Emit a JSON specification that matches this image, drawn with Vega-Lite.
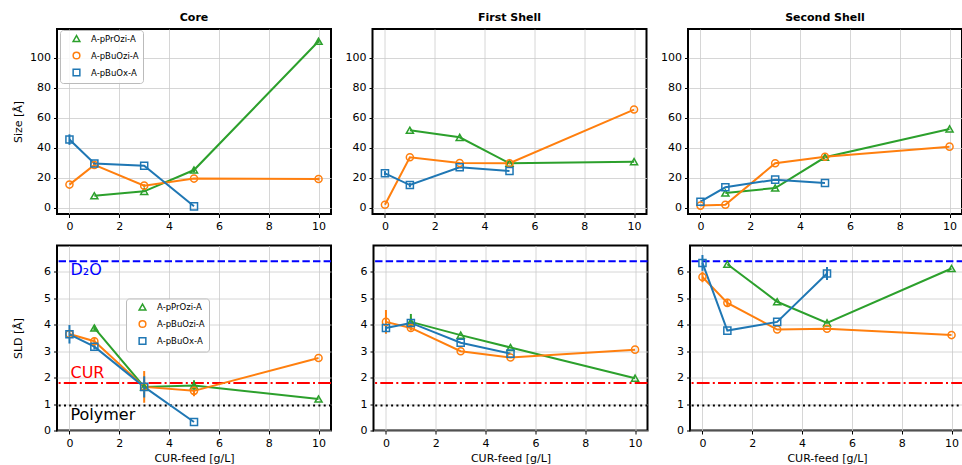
{
  "$schema": "https://vega.github.io/schema/vega-lite/v6.json",
  "padding": {"left": 11, "top": 11, "right": 0, "bottom": 0},
  "config": {
    "font": "DejaVu Sans",
    "view": {"stroke": "black", "strokeWidth": 2},
    "axis": {"domain": false, "grid": true, "gridColor": "#cccccc", "gridWidth": 0.8, "tickColor": "black", "tickSize": 3.5, "labelFontSize": 11, "labelColor": "black", "titleFontSize": 11, "titleFontWeight": "normal", "titleColor": "black", "labelPadding": 3, "labelFlush": false, "labelOverlap": false, "titlePadding": 4},
    "axisY": {"minExtent": 30, "maxExtent": 30},
    "title": {"fontSize": 11, "fontWeight": "bold", "anchor": "middle", "offset": 6, "color": "black"},
    "legend": {"labelFontSize": 8.5, "labelColor": "black", "symbolSize": 45, "symbolStrokeWidth": 1.5, "rowPadding": 4, "padding": 4, "strokeColor": "#bbbbbb", "strokeWidth": 1, "fillColor": "rgba(255,255,255,0.85)", "cornerRadius": 3, "symbolOffset": 8, "labelOffset": 10},
    "concat": {"spacing": 10}
  },
  "datasets": {
    "pts": [
      {"p": "Core", "q": "Size", "s": "A-pPrOzi-A", "x": 1, "y": 8.2, "e": 0},
      {"p": "Core", "q": "Size", "s": "A-pPrOzi-A", "x": 3, "y": 11.1, "e": 0},
      {"p": "Core", "q": "Size", "s": "A-pPrOzi-A", "x": 5, "y": 25.3, "e": 1.5},
      {"p": "Core", "q": "Size", "s": "A-pPrOzi-A", "x": 10, "y": 111.1, "e": 1},
      {"p": "Core", "q": "Size", "s": "A-pBuOzi-A", "x": 0, "y": 15.6, "e": 0},
      {"p": "Core", "q": "Size", "s": "A-pBuOzi-A", "x": 1, "y": 28.7, "e": 1.5},
      {"p": "Core", "q": "Size", "s": "A-pBuOzi-A", "x": 3, "y": 14.9, "e": 1},
      {"p": "Core", "q": "Size", "s": "A-pBuOzi-A", "x": 5, "y": 19.6, "e": 0},
      {"p": "Core", "q": "Size", "s": "A-pBuOzi-A", "x": 10, "y": 19.3, "e": 1},
      {"p": "Core", "q": "Size", "s": "A-pBuOx-A", "x": 0, "y": 45.6, "e": 3.5},
      {"p": "Core", "q": "Size", "s": "A-pBuOx-A", "x": 1, "y": 29.6, "e": 1.5},
      {"p": "Core", "q": "Size", "s": "A-pBuOx-A", "x": 3, "y": 28.2, "e": 0},
      {"p": "Core", "q": "Size", "s": "A-pBuOx-A", "x": 5, "y": 1.1, "e": 0},
      {"p": "First Shell", "q": "Size", "s": "A-pPrOzi-A", "x": 1, "y": 51.8, "e": 0},
      {"p": "First Shell", "q": "Size", "s": "A-pPrOzi-A", "x": 3, "y": 47.1, "e": 0},
      {"p": "First Shell", "q": "Size", "s": "A-pPrOzi-A", "x": 5, "y": 29.8, "e": 0},
      {"p": "First Shell", "q": "Size", "s": "A-pPrOzi-A", "x": 10, "y": 30.9, "e": 0},
      {"p": "First Shell", "q": "Size", "s": "A-pBuOzi-A", "x": 0, "y": 2.2, "e": 0},
      {"p": "First Shell", "q": "Size", "s": "A-pBuOzi-A", "x": 1, "y": 33.8, "e": 0},
      {"p": "First Shell", "q": "Size", "s": "A-pBuOzi-A", "x": 3, "y": 30.0, "e": 0},
      {"p": "First Shell", "q": "Size", "s": "A-pBuOzi-A", "x": 5, "y": 29.8, "e": 0},
      {"p": "First Shell", "q": "Size", "s": "A-pBuOzi-A", "x": 10, "y": 65.6, "e": 0},
      {"p": "First Shell", "q": "Size", "s": "A-pBuOx-A", "x": 0, "y": 23.1, "e": 1.5},
      {"p": "First Shell", "q": "Size", "s": "A-pBuOx-A", "x": 1, "y": 15.3, "e": 1.5},
      {"p": "First Shell", "q": "Size", "s": "A-pBuOx-A", "x": 3, "y": 27.1, "e": 0},
      {"p": "First Shell", "q": "Size", "s": "A-pBuOx-A", "x": 5, "y": 24.7, "e": 0},
      {"p": "Second Shell", "q": "Size", "s": "A-pPrOzi-A", "x": 1, "y": 10.0, "e": 0},
      {"p": "Second Shell", "q": "Size", "s": "A-pPrOzi-A", "x": 3, "y": 13.3, "e": 0},
      {"p": "Second Shell", "q": "Size", "s": "A-pPrOzi-A", "x": 5, "y": 33.8, "e": 0},
      {"p": "Second Shell", "q": "Size", "s": "A-pPrOzi-A", "x": 10, "y": 52.7, "e": 0},
      {"p": "Second Shell", "q": "Size", "s": "A-pBuOzi-A", "x": 0, "y": 1.6, "e": 0},
      {"p": "Second Shell", "q": "Size", "s": "A-pBuOzi-A", "x": 1, "y": 2.2, "e": 0},
      {"p": "Second Shell", "q": "Size", "s": "A-pBuOzi-A", "x": 3, "y": 29.8, "e": 0},
      {"p": "Second Shell", "q": "Size", "s": "A-pBuOzi-A", "x": 5, "y": 34.2, "e": 0},
      {"p": "Second Shell", "q": "Size", "s": "A-pBuOzi-A", "x": 10, "y": 40.9, "e": 0},
      {"p": "Second Shell", "q": "Size", "s": "A-pBuOx-A", "x": 0, "y": 4.2, "e": 0},
      {"p": "Second Shell", "q": "Size", "s": "A-pBuOx-A", "x": 1, "y": 13.8, "e": 0},
      {"p": "Second Shell", "q": "Size", "s": "A-pBuOx-A", "x": 3, "y": 18.9, "e": 0},
      {"p": "Second Shell", "q": "Size", "s": "A-pBuOx-A", "x": 5, "y": 16.7, "e": 0},
      {"p": "Core", "q": "SLD", "s": "A-pPrOzi-A", "x": 1, "y": 3.88, "e": 0.1},
      {"p": "Core", "q": "SLD", "s": "A-pPrOzi-A", "x": 3, "y": 1.65, "e": 0},
      {"p": "Core", "q": "SLD", "s": "A-pPrOzi-A", "x": 5, "y": 1.7, "e": 0.2},
      {"p": "Core", "q": "SLD", "s": "A-pPrOzi-A", "x": 10, "y": 1.19, "e": 0},
      {"p": "Core", "q": "SLD", "s": "A-pBuOzi-A", "x": 0, "y": 3.65, "e": 0},
      {"p": "Core", "q": "SLD", "s": "A-pBuOzi-A", "x": 1, "y": 3.38, "e": 0.15},
      {"p": "Core", "q": "SLD", "s": "A-pBuOzi-A", "x": 3, "y": 1.65, "e": 0.6},
      {"p": "Core", "q": "SLD", "s": "A-pBuOzi-A", "x": 5, "y": 1.5, "e": 0.2},
      {"p": "Core", "q": "SLD", "s": "A-pBuOzi-A", "x": 10, "y": 2.74, "e": 0},
      {"p": "Core", "q": "SLD", "s": "A-pBuOx-A", "x": 0, "y": 3.64, "e": 0.35},
      {"p": "Core", "q": "SLD", "s": "A-pBuOx-A", "x": 1, "y": 3.17, "e": 0.1},
      {"p": "Core", "q": "SLD", "s": "A-pBuOx-A", "x": 3, "y": 1.65, "e": 0.4},
      {"p": "Core", "q": "SLD", "s": "A-pBuOx-A", "x": 5, "y": 0.32, "e": 0},
      {"p": "First Shell", "q": "SLD", "s": "A-pPrOzi-A", "x": 1, "y": 4.11, "e": 0.3},
      {"p": "First Shell", "q": "SLD", "s": "A-pPrOzi-A", "x": 3, "y": 3.61, "e": 0},
      {"p": "First Shell", "q": "SLD", "s": "A-pPrOzi-A", "x": 5, "y": 3.14, "e": 0},
      {"p": "First Shell", "q": "SLD", "s": "A-pPrOzi-A", "x": 10, "y": 1.98, "e": 0},
      {"p": "First Shell", "q": "SLD", "s": "A-pBuOzi-A", "x": 0, "y": 4.11, "e": 0.45},
      {"p": "First Shell", "q": "SLD", "s": "A-pBuOzi-A", "x": 1, "y": 3.88, "e": 0.1},
      {"p": "First Shell", "q": "SLD", "s": "A-pBuOzi-A", "x": 3, "y": 3.0, "e": 0},
      {"p": "First Shell", "q": "SLD", "s": "A-pBuOzi-A", "x": 5, "y": 2.76, "e": 0},
      {"p": "First Shell", "q": "SLD", "s": "A-pBuOzi-A", "x": 10, "y": 3.06, "e": 0},
      {"p": "First Shell", "q": "SLD", "s": "A-pBuOx-A", "x": 0, "y": 3.88, "e": 0.15},
      {"p": "First Shell", "q": "SLD", "s": "A-pBuOx-A", "x": 1, "y": 4.07, "e": 0.1},
      {"p": "First Shell", "q": "SLD", "s": "A-pBuOx-A", "x": 3, "y": 3.32, "e": 0},
      {"p": "First Shell", "q": "SLD", "s": "A-pBuOx-A", "x": 5, "y": 2.91, "e": 0},
      {"p": "Second Shell", "q": "SLD", "s": "A-pPrOzi-A", "x": 1, "y": 6.29, "e": 0},
      {"p": "Second Shell", "q": "SLD", "s": "A-pPrOzi-A", "x": 3, "y": 4.87, "e": 0},
      {"p": "Second Shell", "q": "SLD", "s": "A-pPrOzi-A", "x": 5, "y": 4.07, "e": 0},
      {"p": "Second Shell", "q": "SLD", "s": "A-pPrOzi-A", "x": 10, "y": 6.13, "e": 0},
      {"p": "Second Shell", "q": "SLD", "s": "A-pBuOzi-A", "x": 0, "y": 5.81, "e": 0.2},
      {"p": "Second Shell", "q": "SLD", "s": "A-pBuOzi-A", "x": 1, "y": 4.83, "e": 0.15},
      {"p": "Second Shell", "q": "SLD", "s": "A-pBuOzi-A", "x": 3, "y": 3.82, "e": 0},
      {"p": "Second Shell", "q": "SLD", "s": "A-pBuOzi-A", "x": 5, "y": 3.85, "e": 0},
      {"p": "Second Shell", "q": "SLD", "s": "A-pBuOzi-A", "x": 10, "y": 3.61, "e": 0},
      {"p": "Second Shell", "q": "SLD", "s": "A-pBuOx-A", "x": 0, "y": 6.34, "e": 0.3},
      {"p": "Second Shell", "q": "SLD", "s": "A-pBuOx-A", "x": 1, "y": 3.78, "e": 0},
      {"p": "Second Shell", "q": "SLD", "s": "A-pBuOx-A", "x": 3, "y": 4.11, "e": 0},
      {"p": "Second Shell", "q": "SLD", "s": "A-pBuOx-A", "x": 5, "y": 5.94, "e": 0.25}
    ],
    "refs": [
      {"name": "D₂O", "value": 6.4},
      {"name": "CUR", "value": 1.8},
      {"name": "Polymer", "value": 0.95}
    ]
  },
  "resolve": {"scale": {"color": "independent", "shape": "independent"}},
  "spacing": 11.5,
  "vconcat": [
    {
      "resolve": {"scale": {"color": "independent", "shape": "independent"}},
      "spacing": 9.5,
      "hconcat": [
        {
          "width": 274, "height": 185, "title": "Core",
          "data": {"name": "pts"},
          "transform": [{"filter": "datum.p === 'Core' && datum.q === 'Size'"}],
          "layer": [
            {"transform": [{"filter": "datum.e > 0"}],
             "mark": {"type": "errorbar", "ticks": false, "thickness": 2},
             "encoding": {
               "x": {"field": "x", "type": "quantitative", "scale": {"domain": [-0.5, 10.5], "nice": false, "zero": false}, "axis": {"values": [0, 2, 4, 6, 8, 10], "title": null}},
               "y": {"field": "y", "type": "quantitative", "scale": {"domain": [-4, 119.3], "nice": false, "zero": false}, "axis": {"values": [0, 20, 40, 60, 80, 100], "title": "Size [Å]"}},
               "yError": {"field": "e"},
               "color": {"field": "s", "type": "nominal", "scale": {"domain": ["A-pPrOzi-A", "A-pBuOzi-A", "A-pBuOx-A"], "range": ["#2ca02c", "#ff7f0e", "#1f77b4"]}, "legend": {"title": null, "orient": "none", "legendX": 3, "legendY": 1}}
             }},
            {"mark": {"type": "line", "strokeWidth": 2},
             "encoding": {
               "x": {"field": "x", "type": "quantitative", "scale": {"domain": [-0.5, 10.5], "nice": false, "zero": false}, "axis": {"values": [0, 2, 4, 6, 8, 10], "title": null}},
               "y": {"field": "y", "type": "quantitative", "scale": {"domain": [-4, 119.3], "nice": false, "zero": false}, "axis": {"values": [0, 20, 40, 60, 80, 100], "title": "Size [Å]"}},
               "color": {"field": "s", "type": "nominal", "scale": {"domain": ["A-pPrOzi-A", "A-pBuOzi-A", "A-pBuOx-A"], "range": ["#2ca02c", "#ff7f0e", "#1f77b4"]}, "legend": {"title": null, "orient": "none", "legendX": 3, "legendY": 1}}
             }},
            {"mark": {"type": "point", "filled": false, "size": 50, "strokeWidth": 1.5, "opacity": 1},
             "encoding": {
               "x": {"field": "x", "type": "quantitative", "scale": {"domain": [-0.5, 10.5], "nice": false, "zero": false}, "axis": {"values": [0, 2, 4, 6, 8, 10], "title": null}},
               "y": {"field": "y", "type": "quantitative", "scale": {"domain": [-4, 119.3], "nice": false, "zero": false}, "axis": {"values": [0, 20, 40, 60, 80, 100], "title": "Size [Å]"}},
               "color": {"field": "s", "type": "nominal", "scale": {"domain": ["A-pPrOzi-A", "A-pBuOzi-A", "A-pBuOx-A"], "range": ["#2ca02c", "#ff7f0e", "#1f77b4"]}, "legend": {"title": null, "orient": "none", "legendX": 3, "legendY": 1}},
               "shape": {"field": "s", "type": "nominal", "scale": {"domain": ["A-pPrOzi-A", "A-pBuOzi-A", "A-pBuOx-A"], "range": ["triangle-up", "circle", "square"]}, "legend": {"title": null, "orient": "none", "legendX": 3, "legendY": 1}}
             }}
          ]
        },
        {
          "width": 274, "height": 185, "title": "First Shell",
          "data": {"name": "pts"},
          "transform": [{"filter": "datum.p === 'First Shell' && datum.q === 'Size'"}],
          "layer": [
            {"transform": [{"filter": "datum.e > 0"}],
             "mark": {"type": "errorbar", "ticks": false, "thickness": 2},
             "encoding": {
               "x": {"field": "x", "type": "quantitative", "scale": {"domain": [-0.5, 10.5], "nice": false, "zero": false}, "axis": {"values": [0, 2, 4, 6, 8, 10], "title": null}},
               "y": {"field": "y", "type": "quantitative", "scale": {"domain": [-4, 119.3], "nice": false, "zero": false}, "axis": {"values": [0, 20, 40, 60, 80, 100], "title": null}},
               "yError": {"field": "e"},
               "color": {"field": "s", "type": "nominal", "scale": {"domain": ["A-pPrOzi-A", "A-pBuOzi-A", "A-pBuOx-A"], "range": ["#2ca02c", "#ff7f0e", "#1f77b4"]}, "legend": null}
             }},
            {"mark": {"type": "line", "strokeWidth": 2},
             "encoding": {
               "x": {"field": "x", "type": "quantitative", "scale": {"domain": [-0.5, 10.5], "nice": false, "zero": false}, "axis": {"values": [0, 2, 4, 6, 8, 10], "title": null}},
               "y": {"field": "y", "type": "quantitative", "scale": {"domain": [-4, 119.3], "nice": false, "zero": false}, "axis": {"values": [0, 20, 40, 60, 80, 100], "title": null}},
               "color": {"field": "s", "type": "nominal", "scale": {"domain": ["A-pPrOzi-A", "A-pBuOzi-A", "A-pBuOx-A"], "range": ["#2ca02c", "#ff7f0e", "#1f77b4"]}, "legend": null}
             }},
            {"mark": {"type": "point", "filled": false, "size": 50, "strokeWidth": 1.5, "opacity": 1},
             "encoding": {
               "x": {"field": "x", "type": "quantitative", "scale": {"domain": [-0.5, 10.5], "nice": false, "zero": false}, "axis": {"values": [0, 2, 4, 6, 8, 10], "title": null}},
               "y": {"field": "y", "type": "quantitative", "scale": {"domain": [-4, 119.3], "nice": false, "zero": false}, "axis": {"values": [0, 20, 40, 60, 80, 100], "title": null}},
               "color": {"field": "s", "type": "nominal", "scale": {"domain": ["A-pPrOzi-A", "A-pBuOzi-A", "A-pBuOx-A"], "range": ["#2ca02c", "#ff7f0e", "#1f77b4"]}, "legend": null},
               "shape": {"field": "s", "type": "nominal", "scale": {"domain": ["A-pPrOzi-A", "A-pBuOzi-A", "A-pBuOx-A"], "range": ["triangle-up", "circle", "square"]}, "legend": null}
             }}
          ]
        },
        {
          "width": 274, "height": 185, "title": "Second Shell",
          "data": {"name": "pts"},
          "transform": [{"filter": "datum.p === 'Second Shell' && datum.q === 'Size'"}],
          "layer": [
            {"mark": {"type": "line", "strokeWidth": 2},
             "encoding": {
               "x": {"field": "x", "type": "quantitative", "scale": {"domain": [-0.5, 10.5], "nice": false, "zero": false}, "axis": {"values": [0, 2, 4, 6, 8, 10], "title": null}},
               "y": {"field": "y", "type": "quantitative", "scale": {"domain": [-4, 119.3], "nice": false, "zero": false}, "axis": {"values": [0, 20, 40, 60, 80, 100], "title": null}},
               "color": {"field": "s", "type": "nominal", "scale": {"domain": ["A-pPrOzi-A", "A-pBuOzi-A", "A-pBuOx-A"], "range": ["#2ca02c", "#ff7f0e", "#1f77b4"]}, "legend": null}
             }},
            {"mark": {"type": "point", "filled": false, "size": 50, "strokeWidth": 1.5, "opacity": 1},
             "encoding": {
               "x": {"field": "x", "type": "quantitative", "scale": {"domain": [-0.5, 10.5], "nice": false, "zero": false}, "axis": {"values": [0, 2, 4, 6, 8, 10], "title": null}},
               "y": {"field": "y", "type": "quantitative", "scale": {"domain": [-4, 119.3], "nice": false, "zero": false}, "axis": {"values": [0, 20, 40, 60, 80, 100], "title": null}},
               "color": {"field": "s", "type": "nominal", "scale": {"domain": ["A-pPrOzi-A", "A-pBuOzi-A", "A-pBuOx-A"], "range": ["#2ca02c", "#ff7f0e", "#1f77b4"]}, "legend": null},
               "shape": {"field": "s", "type": "nominal", "scale": {"domain": ["A-pPrOzi-A", "A-pBuOzi-A", "A-pBuOx-A"], "range": ["triangle-up", "circle", "square"]}, "legend": null}
             }}
          ]
        }
      ]
    },
    {
      "resolve": {"scale": {"color": "independent", "shape": "independent"}},
      "spacing": 9.5,
      "hconcat": [
        {
          "width": 274, "height": 185,
          "layer": [
            {"data": {"name": "refs"}, "transform": [{"filter": "datum.name === 'D₂O'"}],
             "mark": {"type": "rule", "color": "#0000ff", "strokeWidth": 2, "strokeDash": [7.4, 3.2]},
             "encoding": {"y": {"field": "value", "type": "quantitative", "scale": {"domain": [0, 7], "nice": false, "zero": false}, "axis": {"values": [0, 1, 2, 3, 4, 5, 6], "title": "SLD [Å]"}}}},
            {"data": {"name": "refs"}, "transform": [{"filter": "datum.name === 'CUR'"}],
             "mark": {"type": "rule", "color": "#ff0000", "strokeWidth": 2, "strokeDash": [12.8, 3.2, 2, 3.2]},
             "encoding": {"y": {"field": "value", "type": "quantitative", "scale": {"domain": [0, 7], "nice": false, "zero": false}, "axis": {"values": [0, 1, 2, 3, 4, 5, 6], "title": "SLD [Å]"}}}},
            {"data": {"name": "refs"}, "transform": [{"filter": "datum.name === 'Polymer'"}],
             "mark": {"type": "rule", "color": "black", "strokeWidth": 2, "strokeDash": [2, 3.3]},
             "encoding": {"y": {"field": "value", "type": "quantitative", "scale": {"domain": [0, 7], "nice": false, "zero": false}, "axis": {"values": [0, 1, 2, 3, 4, 5, 6], "title": "SLD [Å]"}}}},
            {"data": {"name": "refs"}, "transform": [{"filter": "datum.name === 'D₂O'"}],
             "mark": {"type": "text", "color": "#0000ff", "fontSize": 16, "align": "left", "baseline": "top", "dx": 1, "dy": 1},
             "encoding": {"x": {"datum": 0, "type": "quantitative", "scale": {"domain": [-0.5, 10.5], "nice": false, "zero": false}, "axis": {"values": [0, 2, 4, 6, 8, 10], "title": "CUR-feed [g/L]"}}, "y": {"field": "value", "type": "quantitative", "scale": {"domain": [0, 7], "nice": false, "zero": false}, "axis": {"values": [0, 1, 2, 3, 4, 5, 6], "title": "SLD [Å]"}}, "text": {"field": "name"}}},
            {"data": {"name": "refs"}, "transform": [{"filter": "datum.name === 'CUR'"}],
             "mark": {"type": "text", "color": "#ff0000", "fontSize": 16, "align": "left", "baseline": "alphabetic", "dx": 1, "dy": -5},
             "encoding": {"x": {"datum": 0, "type": "quantitative", "scale": {"domain": [-0.5, 10.5], "nice": false, "zero": false}, "axis": {"values": [0, 2, 4, 6, 8, 10], "title": "CUR-feed [g/L]"}}, "y": {"field": "value", "type": "quantitative", "scale": {"domain": [0, 7], "nice": false, "zero": false}, "axis": {"values": [0, 1, 2, 3, 4, 5, 6], "title": "SLD [Å]"}}, "text": {"field": "name"}}},
            {"data": {"name": "refs"}, "transform": [{"filter": "datum.name === 'Polymer'"}],
             "mark": {"type": "text", "color": "black", "fontSize": 16, "align": "left", "baseline": "top", "dx": 1, "dy": 2},
             "encoding": {"x": {"datum": 0, "type": "quantitative", "scale": {"domain": [-0.5, 10.5], "nice": false, "zero": false}, "axis": {"values": [0, 2, 4, 6, 8, 10], "title": "CUR-feed [g/L]"}}, "y": {"field": "value", "type": "quantitative", "scale": {"domain": [0, 7], "nice": false, "zero": false}, "axis": {"values": [0, 1, 2, 3, 4, 5, 6], "title": "SLD [Å]"}}, "text": {"field": "name"}}},
            {"data": {"name": "pts"}, "transform": [{"filter": "datum.p === 'Core' && datum.q === 'SLD' && datum.e > 0"}],
             "mark": {"type": "errorbar", "ticks": false, "thickness": 2},
             "encoding": {
               "x": {"field": "x", "type": "quantitative", "scale": {"domain": [-0.5, 10.5], "nice": false, "zero": false}, "axis": {"values": [0, 2, 4, 6, 8, 10], "title": "CUR-feed [g/L]"}},
               "y": {"field": "y", "type": "quantitative", "scale": {"domain": [0, 7], "nice": false, "zero": false}, "axis": {"values": [0, 1, 2, 3, 4, 5, 6], "title": "SLD [Å]"}},
               "yError": {"field": "e"},
               "color": {"field": "s", "type": "nominal", "scale": {"domain": ["A-pPrOzi-A", "A-pBuOzi-A", "A-pBuOx-A"], "range": ["#2ca02c", "#ff7f0e", "#1f77b4"]}, "legend": {"title": null, "orient": "none", "legendX": 69, "legendY": 53}}
             }},
            {"data": {"name": "pts"}, "transform": [{"filter": "datum.p === 'Core' && datum.q === 'SLD'"}],
             "mark": {"type": "line", "strokeWidth": 2},
             "encoding": {
               "x": {"field": "x", "type": "quantitative", "scale": {"domain": [-0.5, 10.5], "nice": false, "zero": false}, "axis": {"values": [0, 2, 4, 6, 8, 10], "title": "CUR-feed [g/L]"}},
               "y": {"field": "y", "type": "quantitative", "scale": {"domain": [0, 7], "nice": false, "zero": false}, "axis": {"values": [0, 1, 2, 3, 4, 5, 6], "title": "SLD [Å]"}},
               "color": {"field": "s", "type": "nominal", "scale": {"domain": ["A-pPrOzi-A", "A-pBuOzi-A", "A-pBuOx-A"], "range": ["#2ca02c", "#ff7f0e", "#1f77b4"]}, "legend": {"title": null, "orient": "none", "legendX": 69, "legendY": 53}}
             }},
            {"data": {"name": "pts"}, "transform": [{"filter": "datum.p === 'Core' && datum.q === 'SLD'"}],
             "mark": {"type": "point", "filled": false, "size": 50, "strokeWidth": 1.5, "opacity": 1},
             "encoding": {
               "x": {"field": "x", "type": "quantitative", "scale": {"domain": [-0.5, 10.5], "nice": false, "zero": false}, "axis": {"values": [0, 2, 4, 6, 8, 10], "title": "CUR-feed [g/L]"}},
               "y": {"field": "y", "type": "quantitative", "scale": {"domain": [0, 7], "nice": false, "zero": false}, "axis": {"values": [0, 1, 2, 3, 4, 5, 6], "title": "SLD [Å]"}},
               "color": {"field": "s", "type": "nominal", "scale": {"domain": ["A-pPrOzi-A", "A-pBuOzi-A", "A-pBuOx-A"], "range": ["#2ca02c", "#ff7f0e", "#1f77b4"]}, "legend": {"title": null, "orient": "none", "legendX": 69, "legendY": 53}},
               "shape": {"field": "s", "type": "nominal", "scale": {"domain": ["A-pPrOzi-A", "A-pBuOzi-A", "A-pBuOx-A"], "range": ["triangle-up", "circle", "square"]}, "legend": {"title": null, "orient": "none", "legendX": 69, "legendY": 53}}
             }}
          ]
        },
        {
          "width": 274, "height": 185,
          "layer": [
            {"data": {"name": "refs"}, "transform": [{"filter": "datum.name === 'D₂O'"}],
             "mark": {"type": "rule", "color": "#0000ff", "strokeWidth": 2, "strokeDash": [7.4, 3.2]},
             "encoding": {"y": {"field": "value", "type": "quantitative", "scale": {"domain": [0, 7], "nice": false, "zero": false}, "axis": {"values": [0, 1, 2, 3, 4, 5, 6], "title": null}}}},
            {"data": {"name": "refs"}, "transform": [{"filter": "datum.name === 'CUR'"}],
             "mark": {"type": "rule", "color": "#ff0000", "strokeWidth": 2, "strokeDash": [12.8, 3.2, 2, 3.2]},
             "encoding": {"y": {"field": "value", "type": "quantitative", "scale": {"domain": [0, 7], "nice": false, "zero": false}, "axis": {"values": [0, 1, 2, 3, 4, 5, 6], "title": null}}}},
            {"data": {"name": "refs"}, "transform": [{"filter": "datum.name === 'Polymer'"}],
             "mark": {"type": "rule", "color": "black", "strokeWidth": 2, "strokeDash": [2, 3.3]},
             "encoding": {"y": {"field": "value", "type": "quantitative", "scale": {"domain": [0, 7], "nice": false, "zero": false}, "axis": {"values": [0, 1, 2, 3, 4, 5, 6], "title": null}}}},
            {"data": {"name": "pts"}, "transform": [{"filter": "datum.p === 'First Shell' && datum.q === 'SLD' && datum.e > 0"}],
             "mark": {"type": "errorbar", "ticks": false, "thickness": 2},
             "encoding": {
               "x": {"field": "x", "type": "quantitative", "scale": {"domain": [-0.5, 10.5], "nice": false, "zero": false}, "axis": {"values": [0, 2, 4, 6, 8, 10], "title": "CUR-feed [g/L]"}},
               "y": {"field": "y", "type": "quantitative", "scale": {"domain": [0, 7], "nice": false, "zero": false}, "axis": {"values": [0, 1, 2, 3, 4, 5, 6], "title": null}},
               "yError": {"field": "e"},
               "color": {"field": "s", "type": "nominal", "scale": {"domain": ["A-pPrOzi-A", "A-pBuOzi-A", "A-pBuOx-A"], "range": ["#2ca02c", "#ff7f0e", "#1f77b4"]}, "legend": null}
             }},
            {"data": {"name": "pts"}, "transform": [{"filter": "datum.p === 'First Shell' && datum.q === 'SLD'"}],
             "mark": {"type": "line", "strokeWidth": 2},
             "encoding": {
               "x": {"field": "x", "type": "quantitative", "scale": {"domain": [-0.5, 10.5], "nice": false, "zero": false}, "axis": {"values": [0, 2, 4, 6, 8, 10], "title": "CUR-feed [g/L]"}},
               "y": {"field": "y", "type": "quantitative", "scale": {"domain": [0, 7], "nice": false, "zero": false}, "axis": {"values": [0, 1, 2, 3, 4, 5, 6], "title": null}},
               "color": {"field": "s", "type": "nominal", "scale": {"domain": ["A-pPrOzi-A", "A-pBuOzi-A", "A-pBuOx-A"], "range": ["#2ca02c", "#ff7f0e", "#1f77b4"]}, "legend": null}
             }},
            {"data": {"name": "pts"}, "transform": [{"filter": "datum.p === 'First Shell' && datum.q === 'SLD'"}],
             "mark": {"type": "point", "filled": false, "size": 50, "strokeWidth": 1.5, "opacity": 1},
             "encoding": {
               "x": {"field": "x", "type": "quantitative", "scale": {"domain": [-0.5, 10.5], "nice": false, "zero": false}, "axis": {"values": [0, 2, 4, 6, 8, 10], "title": "CUR-feed [g/L]"}},
               "y": {"field": "y", "type": "quantitative", "scale": {"domain": [0, 7], "nice": false, "zero": false}, "axis": {"values": [0, 1, 2, 3, 4, 5, 6], "title": null}},
               "color": {"field": "s", "type": "nominal", "scale": {"domain": ["A-pPrOzi-A", "A-pBuOzi-A", "A-pBuOx-A"], "range": ["#2ca02c", "#ff7f0e", "#1f77b4"]}, "legend": null},
               "shape": {"field": "s", "type": "nominal", "scale": {"domain": ["A-pPrOzi-A", "A-pBuOzi-A", "A-pBuOx-A"], "range": ["triangle-up", "circle", "square"]}, "legend": null}
             }}
          ]
        },
        {
          "width": 274, "height": 185,
          "layer": [
            {"data": {"name": "refs"}, "transform": [{"filter": "datum.name === 'D₂O'"}],
             "mark": {"type": "rule", "color": "#0000ff", "strokeWidth": 2, "strokeDash": [7.4, 3.2]},
             "encoding": {"y": {"field": "value", "type": "quantitative", "scale": {"domain": [0, 7], "nice": false, "zero": false}, "axis": {"values": [0, 1, 2, 3, 4, 5, 6], "title": null}}}},
            {"data": {"name": "refs"}, "transform": [{"filter": "datum.name === 'CUR'"}],
             "mark": {"type": "rule", "color": "#ff0000", "strokeWidth": 2, "strokeDash": [12.8, 3.2, 2, 3.2]},
             "encoding": {"y": {"field": "value", "type": "quantitative", "scale": {"domain": [0, 7], "nice": false, "zero": false}, "axis": {"values": [0, 1, 2, 3, 4, 5, 6], "title": null}}}},
            {"data": {"name": "refs"}, "transform": [{"filter": "datum.name === 'Polymer'"}],
             "mark": {"type": "rule", "color": "black", "strokeWidth": 2, "strokeDash": [2, 3.3]},
             "encoding": {"y": {"field": "value", "type": "quantitative", "scale": {"domain": [0, 7], "nice": false, "zero": false}, "axis": {"values": [0, 1, 2, 3, 4, 5, 6], "title": null}}}},
            {"data": {"name": "pts"}, "transform": [{"filter": "datum.p === 'Second Shell' && datum.q === 'SLD' && datum.e > 0"}],
             "mark": {"type": "errorbar", "ticks": false, "thickness": 2},
             "encoding": {
               "x": {"field": "x", "type": "quantitative", "scale": {"domain": [-0.5, 10.5], "nice": false, "zero": false}, "axis": {"values": [0, 2, 4, 6, 8, 10], "title": "CUR-feed [g/L]"}},
               "y": {"field": "y", "type": "quantitative", "scale": {"domain": [0, 7], "nice": false, "zero": false}, "axis": {"values": [0, 1, 2, 3, 4, 5, 6], "title": null}},
               "yError": {"field": "e"},
               "color": {"field": "s", "type": "nominal", "scale": {"domain": ["A-pPrOzi-A", "A-pBuOzi-A", "A-pBuOx-A"], "range": ["#2ca02c", "#ff7f0e", "#1f77b4"]}, "legend": null}
             }},
            {"data": {"name": "pts"}, "transform": [{"filter": "datum.p === 'Second Shell' && datum.q === 'SLD'"}],
             "mark": {"type": "line", "strokeWidth": 2},
             "encoding": {
               "x": {"field": "x", "type": "quantitative", "scale": {"domain": [-0.5, 10.5], "nice": false, "zero": false}, "axis": {"values": [0, 2, 4, 6, 8, 10], "title": "CUR-feed [g/L]"}},
               "y": {"field": "y", "type": "quantitative", "scale": {"domain": [0, 7], "nice": false, "zero": false}, "axis": {"values": [0, 1, 2, 3, 4, 5, 6], "title": null}},
               "color": {"field": "s", "type": "nominal", "scale": {"domain": ["A-pPrOzi-A", "A-pBuOzi-A", "A-pBuOx-A"], "range": ["#2ca02c", "#ff7f0e", "#1f77b4"]}, "legend": null}
             }},
            {"data": {"name": "pts"}, "transform": [{"filter": "datum.p === 'Second Shell' && datum.q === 'SLD'"}],
             "mark": {"type": "point", "filled": false, "size": 50, "strokeWidth": 1.5, "opacity": 1},
             "encoding": {
               "x": {"field": "x", "type": "quantitative", "scale": {"domain": [-0.5, 10.5], "nice": false, "zero": false}, "axis": {"values": [0, 2, 4, 6, 8, 10], "title": "CUR-feed [g/L]"}},
               "y": {"field": "y", "type": "quantitative", "scale": {"domain": [0, 7], "nice": false, "zero": false}, "axis": {"values": [0, 1, 2, 3, 4, 5, 6], "title": null}},
               "color": {"field": "s", "type": "nominal", "scale": {"domain": ["A-pPrOzi-A", "A-pBuOzi-A", "A-pBuOx-A"], "range": ["#2ca02c", "#ff7f0e", "#1f77b4"]}, "legend": null},
               "shape": {"field": "s", "type": "nominal", "scale": {"domain": ["A-pPrOzi-A", "A-pBuOzi-A", "A-pBuOx-A"], "range": ["triangle-up", "circle", "square"]}, "legend": null}
             }}
          ]
        }
      ]
    }
  ]
}
